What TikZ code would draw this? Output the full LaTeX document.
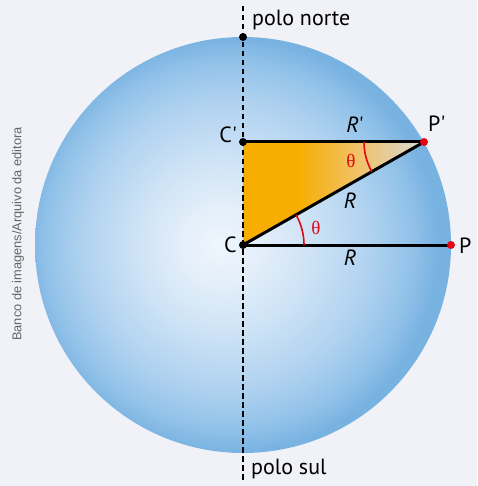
\documentclass[tikz,border=0pt]{standalone}
\usepackage{fontspec}
\setmainfont{PT Sans}
\newfontfamily\credfont{Liberation Sans}
\newfontfamily\greekfont{Liberation Serif}
\usetikzlibrary{calc}

\definecolor{paper}{HTML}{F1F2F7}
\definecolor{globeA}{HTML}{F0F6FC}
\definecolor{globeB}{HTML}{E2EEF9}
\definecolor{globeC}{HTML}{D0E4F6}
\definecolor{globeD}{HTML}{B0D2F0}
\definecolor{globeE}{HTML}{92C2E9}
\definecolor{globeF}{HTML}{78B2E1}
\definecolor{wedgeA}{HTML}{F7AE00}
\definecolor{wedgeB}{HTML}{F2C165}
\definecolor{wedgeC}{HTML}{D5D9D6}
\definecolor{angleRed}{HTML}{E30613}
\definecolor{credit}{HTML}{666666}

% TikZ maps the path's bounding box onto 25bp..75bp of a shading,
% so the rim of the sphere sits at radius 25bp.
\pgfdeclareradialshading{globe}{\pgfpoint{-3bp}{0bp}}{%
  color(0bp)=(globeA); color(5bp)=(globeB); color(10bp)=(globeC);
  color(17.25bp)=(globeD); color(22bp)=(globeE); color(25bp)=(globeF);
  color(50bp)=(globeF)}
% orange wedge that thins out towards the rim
\pgfdeclarehorizontalshading{wedge}{100bp}{%
  color(0bp)=(wedgeA); color(40bp)=(wedgeA);
  color(56bp)=(wedgeB); color(75bp)=(wedgeC); color(100bp)=(wedgeC)}

\tikzset{
  seg/.style={line width=3pt, black},
  axisline/.style={line width=2pt, dash pattern=on 5.5pt off 3.5pt},
  blackdot/.style={circle, fill=black, inner sep=0pt, minimum size=8pt},
  reddot/.style={circle, fill=angleRed, inner sep=0pt, minimum size=8pt},
  lbl/.style={font=\fontsize{22}{22}\selectfont, inner sep=0pt},
  rlbl/.style={font=\fontsize{22}{22}\selectfont\itshape, inner sep=0pt},
  ang/.style={angleRed, line width=1.6pt},
  theta/.style={angleRed, font=\greekfont\fontsize{19}{19}\selectfont, inner sep=0pt},
}

\begin{document}
\begin{tikzpicture}[x=1pt, y=-1pt]
  \fill[paper] (0,0) rectangle (477,486);
  \useasboundingbox (0,0) rectangle (477,486);

  % the sphere
  \shade[shading=globe] (243,245) circle (208pt);

  \coordinate (C) at (243,245);
  \coordinate (Cp) at (243,142);
  \coordinate (Pp) at (424,142);
  \coordinate (P) at (451,245);
  \coordinate (N) at (243,37);
  \coordinate (axisTop) at (243,6);
  \coordinate (axisBot) at (243,482);

  % shaded right triangle C C' P'
  \shade[shading=wedge] (C) -- (Cp) -- (Pp) -- cycle;

  % polar axis
  \draw[axisline] (axisTop) -- (axisBot);

  % radii and parallel segment
  \draw[seg] (Cp) -- (Pp);
  \draw[seg] (C) -- (Pp);
  \draw[seg] (C) -- (P);

  % angle marks
  \draw[ang] ($(C)+(61pt,0pt)$) arc[start angle=0, end angle=29.6, radius=61pt];
  \draw[ang] ($(Pp)+(-60pt,0pt)$) arc[start angle=180, end angle=209.6, radius=60pt];

  % points
  \node[blackdot] (nN) at (N) {};
  \node[blackdot] (nCp) at (Cp) {};
  \node[blackdot] (nC) at (C) {};
  \node[reddot] (nPp) at (Pp) {};
  \node[reddot] (nP) at (P) {};

  % labels
  \node[lbl, anchor=west] (tN) at (252,20) {polo norte};
  \node[lbl, anchor=west] (tS) at (251,469) {polo sul};
  \node[lbl, anchor=east] (tCp) at (237,135) {C\textquotesingle};
  \node[lbl, anchor=east] (tC) at (237,245) {C};
  \node[lbl, anchor=west] (tPp) at (428,124) {P\textquotesingle};
  \node[lbl, anchor=west] (tP) at (459,246) {P};
  \node[rlbl] (tRp) at (355,125) {R\textup{\textquotesingle}};
  \node[rlbl] (tR1) at (350,201) {R};
  \node[rlbl] (tR2) at (350,258) {R};
  \node[theta] (th1) at (351,161) {θ};
  \node[theta] (th2) at (316,228) {θ};

  % image credit
  \node[credit, rotate=90, font=\credfont\fontsize{12.8}{12.8}\selectfont, inner sep=0pt]
    (credit) at (18,234) {Banco de imagens/Arquivo da editora};
\end{tikzpicture}
\end{document}
